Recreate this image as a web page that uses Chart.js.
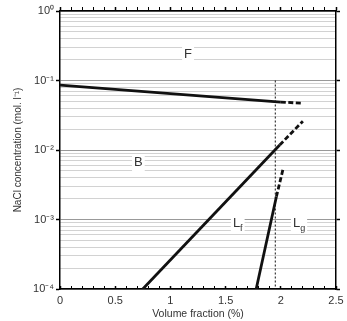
<!DOCTYPE html>
<html><head><meta charset="utf-8">
<script src="https://cdn.jsdelivr.net/npm/chart.js@4.4.0/dist/chart.umd.min.js"></script>
<style>html,body{margin:0;padding:0;background:#fff;}</style>
</head><body>
<canvas id="c" width="347" height="321"></canvas>
<script>
// ---- tick values / labels ----
const xMajorTicks = [0, 0.5, 1, 1.5, 2, 2.5];
const xTickLabels = ['0', '0.5', '1', '1.5', '2', '2.5'];
const xMinorTicks = [0, 0.1, 0.2, 0.3, 0.4, 0.5, 0.6, 0.7, 0.8, 0.9, 1.0, 1.1, 1.2, 1.3, 1.4, 1.5, 1.6, 1.7, 1.8, 1.9, 2.0, 2.1, 2.2, 2.3, 2.4, 2.5];
const yMajorTicks = [0.0001, 0.001, 0.01, 0.1, 1];
const yTickLabels = ['10\u207B\u2074', '10\u207B\u00B3', '10\u207B\u00B2', '10\u207B\u00B9', '10\u2070'];
const yMinorTicks = [
  0.0001, 0.0002, 0.0003, 0.0004, 0.0005, 0.0006, 0.0007, 0.0008, 0.0009,
  0.001, 0.002, 0.003, 0.004, 0.005, 0.006, 0.007, 0.008, 0.009,
  0.01, 0.02, 0.03, 0.04, 0.05, 0.06, 0.07, 0.08, 0.09,
  0.1, 0.2, 0.3, 0.4, 0.5, 0.6, 0.7, 0.8, 0.9, 1
];

// ---- series (volume fraction %, NaCl concentration mol/l) ----
const fbSolidX = [0, 2.0];
const fbSolidY = [0.086, 0.049];
const fbDashX = [2.0, 2.2];
const fbDashY = [0.049, 0.047];
const blSolidX = [0.75, 1.99];
const blSolidY = [0.0001, 0.0118];
const blDashX = [1.99, 2.2];
const blDashY = [0.0118, 0.026];
const lfgSolidX = [1.777, 1.96];
const lfgSolidY = [0.0001, 0.00213];
const lfgDashX = [1.96, 2.02];
const lfgDashY = [0.00213, 0.0053];
const limitX = [1.95, 1.95];
const limitY = [0.1, 0.0001];

// ---- region labels ----
const regionText = ['F', 'B', 'L', 'L'];
const regionSub = ['', '', 'f', 'g'];
const regionX = [1.16, 0.71, 1.61, 2.165];
const regionY = [0.24, 0.0067, 0.00089, 0.00089];

const FONT = "'Liberation Sans', Arial, Helvetica, sans-serif";
const pts = (xs, ys) => xs.map((x, i) => ({x: x, y: ys[i]}));
const isMajorY = v => yMajorTicks.some(m => Math.abs(m - v) / m < 1e-6);
const isMajorX = v => xMajorTicks.some(m => Math.abs(m - v) < 1e-6);
const noPad = s => { s.paddingLeft = 0; s.paddingRight = 0; s.paddingTop = 0; s.paddingBottom = 0; };

const lineDs = (xs, ys, dash, w) => ({
  data: pts(xs, ys), showLine: true, pointRadius: 0, borderColor: '#111',
  borderWidth: w, borderDash: dash, fill: false, xAxisID: 'x', yAxisID: 'y',
  borderCapStyle: 'butt'
});

const regionPlugin = {
  id: 'regionLabels',
  beforeDatasetsDraw(chart) {
    const ctx = chart.ctx, xs = chart.scales.x, ys = chart.scales.y;
    regionText.forEach((t, i) => {
      const px = xs.getPixelForValue(regionX[i]);
      const py = ys.getPixelForValue(regionY[i]);
      ctx.save();
      ctx.font = '13px ' + FONT;
      const w = ctx.measureText(t).width;
      ctx.font = '9px ' + FONT;
      const sw = regionSub[i] ? ctx.measureText(regionSub[i]).width : 0;
      const total = w + sw;
      const left = px - total / 2;
      ctx.fillStyle = '#fff';
      ctx.fillRect(left - 2, py - 8, total + 4, 17);
      ctx.fillStyle = '#333';
      ctx.textBaseline = 'middle';
      ctx.textAlign = 'left';
      ctx.font = '13px ' + FONT;
      ctx.fillText(t, left, py);
      if (regionSub[i]) {
        ctx.font = '9px ' + FONT;
        ctx.fillText(regionSub[i], left + w, py + 5);
      }
      ctx.restore();
    });
  }
};

new Chart(document.getElementById('c'), {
  type: 'scatter',
  data: {
    datasets: [
      lineDs(fbSolidX, fbSolidY, [], 2.8),
      lineDs(fbDashX, fbDashY, [5, 2.5], 2.8),
      lineDs(blSolidX, blSolidY, [], 2.8),
      lineDs(blDashX, blDashY, [5, 2.5], 2.8),
      lineDs(lfgSolidX, lfgSolidY, [], 2.8),
      lineDs(lfgDashX, lfgDashY, [5, 2.5], 2.8),
      lineDs(limitX, limitY, [2, 2], 1)
    ]
  },
  options: {
    responsive: false,
    animation: false,
    devicePixelRatio: 1,
    layout: {padding: 0},
    plugins: {legend: {display: false}, tooltip: {enabled: false}},
    scales: {
      x: {
        type: 'linear', position: 'bottom', min: 0, max: 2.5,
        afterBuildTicks: s => { s.ticks = xMinorTicks.map(v => ({value: v})); },
        afterFit: s => { s.height = 32; noPad(s); },
        ticks: {
          autoSkip: false, maxRotation: 0, padding: 8, color: '#333',
          font: {size: 11, family: FONT},
          callback: v => {
            const i = xMajorTicks.findIndex(m => Math.abs(m - v) < 1e-6);
            return i >= 0 ? xTickLabels[i] : '';
          }
        },
        grid: {drawOnChartArea: false, drawTicks: true, tickLength: -3, tickColor: '#000',
               tickWidth: c => (c.tick && isMajorX(c.tick.value)) ? 1.5 : 1},
        border: {display: true, color: '#000', width: 1.5},
        title: {display: true, text: 'Volume fraction (%)', color: '#333', font: {size: 10.5, family: FONT}, padding: {top: 0, bottom: 1}}
      },
      x2: {
        type: 'linear', position: 'top', min: 0, max: 2.5,
        afterBuildTicks: s => { s.ticks = xMinorTicks.map(v => ({value: v})); },
        afterFit: s => { s.height = 11; noPad(s); },
        ticks: {display: false},
        grid: {drawOnChartArea: false, drawTicks: true, tickLength: 4, tickColor: '#000',
               tickWidth: c => (c.tick && isMajorX(c.tick.value)) ? 1.5 : 1},
        border: {display: true, color: '#000', width: 1.5}
      },
      y: {
        type: 'logarithmic', position: 'left', min: 0.0001, max: 1,
        afterBuildTicks: s => { s.ticks = yMinorTicks.map(v => ({value: v})); },
        afterFit: s => { s.width = 60; noPad(s); },
        ticks: {
          autoSkip: false, padding: 2, color: '#333', font: {size: 11, family: FONT},
          callback: v => {
            const i = yMajorTicks.findIndex(m => Math.abs(m - v) / m < 1e-6);
            return i >= 0 ? yTickLabels[i] : '';
          }
        },
        grid: {
          drawOnChartArea: true, drawTicks: true, tickLength: 4, lineWidth: 1,
          color: c => (c.tick && isMajorY(c.tick.value)) ? '#999999' : '#a4a4a4',
          tickColor: c => (c.tick && isMajorY(c.tick.value)) ? '#000' : 'rgba(0,0,0,0)',
          tickWidth: 1.5
        },
        border: {
          display: true, color: '#000', width: 1.5,
          dash: c => (c.tick && !isMajorY(c.tick.value)) ? [1, 1] : []
        },
        title: {display: true, text: 'NaCl concentration (mol. l\u207B\u00B9)', color: '#333', font: {size: 10, family: FONT}, padding: {top: 12, bottom: 0}}
      },
      y2: {
        type: 'logarithmic', position: 'right', min: 0.0001, max: 1,
        afterBuildTicks: s => { s.ticks = yMajorTicks.map(v => ({value: v})); },
        afterFit: s => { s.width = 11; noPad(s); },
        ticks: {display: false},
        grid: {drawOnChartArea: false, drawTicks: true, tickLength: 4, tickColor: '#000', tickWidth: 1.5},
        border: {display: true, color: '#000', width: 1.5}
      }
    }
  },
  plugins: [regionPlugin]
});
</script>
</body></html>
